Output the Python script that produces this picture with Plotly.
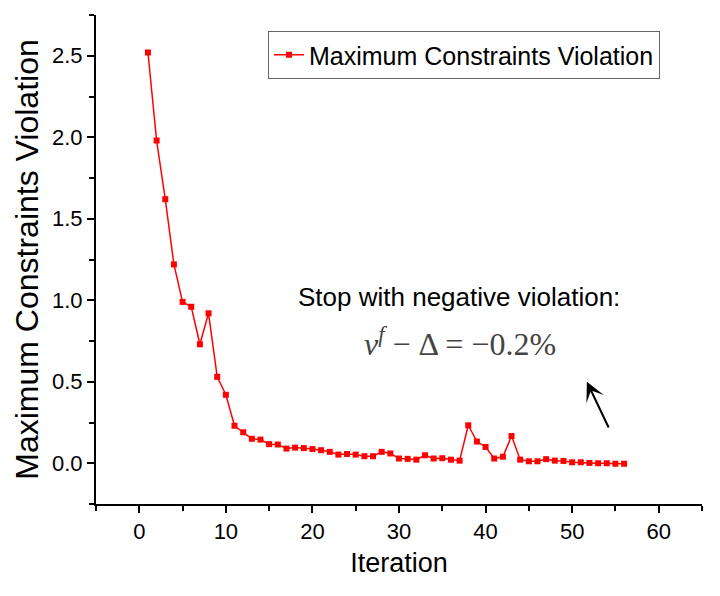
import plotly.graph_objects as go

# iteration number and maximum constraint violation
iterations = list(range(1, 57))
violation = [
    2.52, 1.98, 1.62, 1.22, 0.99, 0.96, 0.73, 0.92, 0.53, 0.42,
    0.23, 0.19, 0.15, 0.145, 0.117, 0.115, 0.09, 0.096, 0.093, 0.087,
    0.08, 0.07, 0.053, 0.057, 0.053, 0.043, 0.043, 0.07, 0.06, 0.029,
    0.027, 0.022, 0.049, 0.029, 0.031, 0.022, 0.016, 0.233, 0.133, 0.10,
    0.029, 0.04, 0.167, 0.022, 0.012, 0.012, 0.025, 0.016, 0.014, 0.006,
    0.006, 0.002, 0.0, 0.0, -0.003, -0.003,
]
series_name = "Maximum Constraints Violation"

fig = go.Figure()
fig.add_trace(go.Scatter(
    x=iterations,
    y=violation,
    mode="lines+markers",
    name=series_name,
    line=dict(color="#ff0000", width=1.5),
    marker=dict(symbol="square", size=6, color="#ff0000"),
))

# note text and the arrow pointing at the last iterations
fig.add_annotation(
    x=(459 - 96) / 606, y=(504 - 297) / 489, xref="paper", yref="paper",
    text="Stop with negative violation:",
    showarrow=False,
    font=dict(family="Arial", size=26, color="black"),
)
fig.add_annotation(
    x=(460 - 96) / 606, y=(504 - 364) / 489, xref="paper", yref="paper",
    text="<i>ν</i><sup><i>f</i></sup> − Δ = −0.2%",
    showarrow=False,
    font=dict(family="Liberation Serif", size=32, color="#444444"),
)
fig.add_annotation(
    x=51.7, y=0.50, ax=54.3, ay=0.21,
    xref="x", yref="y", axref="x", ayref="y",
    text="", showarrow=True,
    arrowhead=3, arrowsize=1.6, arrowwidth=2, arrowcolor="black",
)

axis_common = dict(
    showline=True, linecolor="black", linewidth=2,
    ticks="outside", ticklen=7, tickwidth=2, tickcolor="black",
    showgrid=False, zeroline=False, mirror=False, automargin=False,
    tickfont=dict(family="Arial", size=22, color="black"),
)

fig.update_xaxes(
    range=[-5, 65], dtick=10, tick0=0,
    minor=dict(ticks="outside", dtick=5, ticklen=5, tickwidth=2, tickcolor="black"),
    title=dict(text="Iteration", font=dict(family="Arial", size=27, color="black"), standoff=10),
    **axis_common,
)
fig.update_yaxes(
    range=[-0.25, 2.75], dtick=0.5, tick0=0, tickformat=".1f",
    minor=dict(ticks="outside", dtick=0.25, ticklen=5, tickwidth=2, tickcolor="black"),
    title=dict(text="Maximum Constraints Violation", font=dict(family="Arial", size=32, color="black"), standoff=4),
    **axis_common,
)

# the page body adds 8px at left and top, so the figure is 8px smaller
fig.update_layout(
    width=712, height=588,
    margin=dict(l=88, r=18, t=7, b=92),
    plot_bgcolor="white", paper_bgcolor="white",
    showlegend=True,
    legend=dict(
        x=(268 - 96) / 606, y=(504 - 31) / 489, xanchor="left", yanchor="top",
        bordercolor="#666666", borderwidth=1, bgcolor="white",
        font=dict(family="Arial", size=25, color="black"),
        tracegroupgap=0,
    ),
)

fig.write_html("out.html")
